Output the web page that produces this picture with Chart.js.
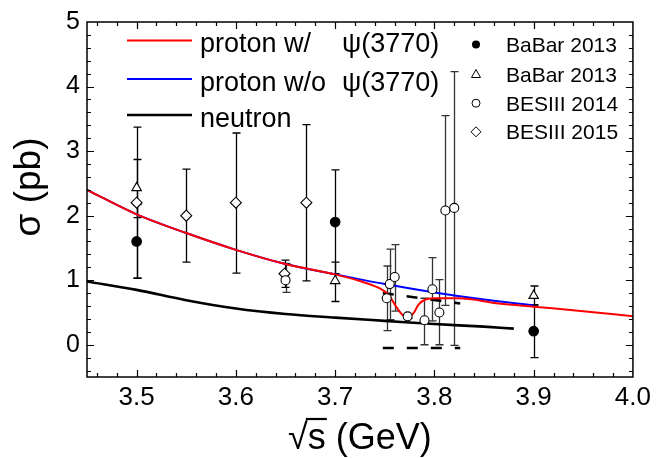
<!DOCTYPE html>
<html><head><meta charset="utf-8">
<script src="https://cdn.jsdelivr.net/npm/chart.js@4.4.1/dist/chart.umd.min.js"></script>
<style>html,body{margin:0;padding:0;background:#fff}#wrap{width:656px;height:458px;position:relative}</style>
</head><body><div id="wrap"><canvas id="c" width="656" height="458"></canvas></div>
<script>
const xTickLabels = [3.5, 3.6, 3.7, 3.8, 3.9, 4.0];
const yTickLabels = [0, 1, 2, 3, 4, 5];

const protonWithX = [3.45, 3.50, 3.55, 3.60, 3.65, 3.70, 3.724, 3.744, 3.754, 3.761, 3.768, 3.773, 3.779, 3.784, 3.791, 3.801, 3.824, 3.865, 3.90, 3.95, 4.00];
const protonWithY = [2.40, 2.02, 1.73, 1.47, 1.25, 1.09, 0.99, 0.88, 0.77, 0.60, 0.46, 0.43, 0.49, 0.62, 0.70, 0.72, 0.72, 0.64, 0.59, 0.52, 0.44];
const protonWithoutX = [3.45, 3.50, 3.55, 3.60, 3.65, 3.70, 3.75, 3.80, 3.85, 3.90];
const protonWithoutY = [2.40, 2.02, 1.73, 1.47, 1.25, 1.09, 0.94, 0.81, 0.70, 0.61];
const neutronX = [3.45, 3.50, 3.55, 3.60, 3.65, 3.70, 3.75, 3.80, 3.85, 3.88];
const neutronY = [0.98, 0.85, 0.69, 0.56, 0.475, 0.42, 0.37, 0.32, 0.28, 0.25];

const bandX = [3.748, 3.826];
const bandUpper = [0.80, 0.64];
const bandLower = [-0.05, -0.05];

const babarFilledX = [3.5, 3.7, 3.9];
const babarFilledY = [1.60, 1.90, 0.21];
const babarFilledLo = [1.03, 1.10, -0.20];
const babarFilledHi = [2.17, 2.71, 0.62];

const babarOpenX = [3.5, 3.7, 3.9];
const babarOpenY = [2.43, 0.99, 0.76];
const babarOpenLo = [1.97, 0.67, 0.60];
const babarOpenHi = [2.87, 1.28, 0.91];

const bes14X = [3.650, 3.752, 3.755, 3.760, 3.773, 3.790, 3.798, 3.805, 3.811, 3.820];
const bes14Y = [1.00, 0.72, 0.94, 1.05, 0.44, 0.38, 0.86, 0.50, 2.08, 2.12];
const bes14Lo = [0.81, 0.22, 0.39, 0.52, 0.41, 0.00, 0.37, 0.00, 0.61, -0.01];
const bes14Hi = [1.26, 1.22, 1.48, 1.55, 0.47, 0.72, 1.35, 1.01, 3.55, 4.23];

const bes15X = [3.50, 3.55, 3.60, 3.649, 3.671];
const bes15Y = [2.20, 2.00, 2.20, 1.10, 2.20];
const bes15Lo = [1.03, 1.28, 1.11, 0.89, 0.99];
const bes15Hi = [3.37, 2.72, 3.28, 1.31, 3.41];

const FONT = "'Liberation Sans', Arial, sans-serif";
const pts = (xs, ys) => xs.map((x, i) => ({x: x, y: ys[i]}));

const errPlugin = {
  id: 'err',
  beforeDatasetsDraw(chart) {
    const ctx = chart.ctx, ys = chart.scales.y;
    chart.data.datasets.forEach((ds, i) => {
      if (!ds.errLo) return;
      const meta = chart.getDatasetMeta(i);
      ctx.save();
      ctx.strokeStyle = ds.errColor || '#000';
      ctx.lineWidth = 1.3;
      meta.data.forEach((pt, j) => {
        const px = Math.round(pt.x) + 0.5;
        const y1 = ys.getPixelForValue(ds.errLo[j]);
        const y2 = ys.getPixelForValue(ds.errHi[j]);
        ctx.beginPath();
        ctx.moveTo(px, y1); ctx.lineTo(px, y2);
        ctx.moveTo(px - 4, y1); ctx.lineTo(px + 4, y1);
        ctx.moveTo(px - 4, y2); ctx.lineTo(px + 4, y2);
        ctx.stroke();
      });
      ctx.restore();
    });
  }
};

const framePlugin = {
  id: 'frame',
  afterDraw(chart) {
    const ctx = chart.ctx, a = chart.chartArea, xs = chart.scales.x, ys = chart.scales.y;
    ctx.save();
    ctx.strokeStyle = '#000';
    ctx.lineWidth = 1.5;
    ctx.strokeRect(a.left, a.top, a.right - a.left, a.bottom - a.top);
    ctx.lineWidth = 1.2;
    ctx.beginPath();
    for (let k = 1; k < 28; k++) {
      const vv = Math.round((3.45 + k * 0.02 - 0.01) * 100) / 100;
      const major = Math.abs(vv * 10 - Math.round(vv * 10)) < 1e-6;
      const len = major ? 7 : 4;
      const px = Math.round(xs.getPixelForValue(vv)) + 0.5;
      ctx.moveTo(px, a.bottom); ctx.lineTo(px, a.bottom - len);
      ctx.moveTo(px, a.top); ctx.lineTo(px, a.top + len);
    }
    for (let k = 1; k < 28; k++) {
      const vv = Math.round((-0.5 + k * 0.2 - 0.1) * 10) / 10;
      if (vv <= -0.5 || vv >= 5) continue;
      const major = Math.abs(vv - Math.round(vv)) < 1e-6;
      const len = major ? 7 : 4;
      const py = Math.round(ys.getPixelForValue(vv)) + 0.5;
      ctx.moveTo(a.left, py); ctx.lineTo(a.left + len, py);
      ctx.moveTo(a.right, py); ctx.lineTo(a.right - len, py);
    }
    ctx.stroke();

    // axis titles
    ctx.fillStyle = '#000';
    ctx.font = '36px ' + FONT;
    ctx.textBaseline = 'alphabetic';
    const cx = (a.left + a.right) / 2;
    const t1 = '\u221A', t2 = 's', t3 = ' (GeV)';
    const w1 = ctx.measureText(t1).width, w2 = ctx.measureText(t2).width, w3 = ctx.measureText(t3).width;
    const x0 = cx - (w1 + w2 + w3) / 2;
    const base = 449;
    ctx.textAlign = 'left';
    ctx.fillText(t1, x0, base);
    ctx.fillText(t2, x0 + w1, base);
    ctx.fillText(t3, x0 + w1 + w2, base);
    ctx.lineWidth = 2.2;
    ctx.beginPath();
    ctx.moveTo(x0 + w1 - 2, 419); ctx.lineTo(x0 + w1 + w2 + 1, 419);
    ctx.stroke();

    ctx.save();
    ctx.translate(40, 187);
    ctx.rotate(-Math.PI / 2);
    ctx.textAlign = 'center';
    ctx.font = '37px ' + FONT;
    ctx.fillText('\u03C3 (pb)', 0, 0);
    ctx.restore();

    // legend (left)
    const rows = [
      {c: '#ff0000', t: 'proton w/', base: 52, lw: 2},
      {c: '#0000ff', t: 'proton w/o', base: 90.5, lw: 2.2},
      {c: '#000000', t: 'neutron', base: 126.5, lw: 2.6}
    ];
    ctx.font = '27px ' + FONT;
    ctx.textAlign = 'left';
    rows.forEach((r, i) => {
      ctx.strokeStyle = r.c; ctx.lineWidth = r.lw;
      ctx.beginPath(); ctx.moveTo(127, r.base - 11.5); ctx.lineTo(192, r.base - 11.5); ctx.stroke();
      ctx.fillText(r.t, 200, r.base);
      if (i < 2) ctx.fillText('\u03C8(3770)', 342, r.base);
    });

    // legend (right)
    ctx.font = '21px ' + FONT;
    const lx = 476;
    const rr = [
      {t: 'BaBar 2013', b: 52, s: 'fc'},
      {t: 'BaBar 2013', b: 82, s: 'tri'},
      {t: 'BESIII 2014', b: 110.7, s: 'oc'},
      {t: 'BESIII 2015', b: 139.3, s: 'dia'}
    ];
    ctx.lineWidth = 1;
    ctx.strokeStyle = '#000';
    rr.forEach(r => {
      ctx.fillStyle = '#000';
      ctx.fillText(r.t, 506, r.b);
      const cy = r.b - 7.5;
      ctx.beginPath();
      if (r.s === 'fc') { ctx.arc(lx, cy, 4, 0, 2 * Math.PI); ctx.fill(); }
      else if (r.s === 'tri') { ctx.moveTo(lx, cy - 5); ctx.lineTo(lx + 4.5, cy + 3); ctx.lineTo(lx - 4.5, cy + 3); ctx.closePath(); ctx.stroke(); }
      else if (r.s === 'oc') { ctx.arc(lx, cy, 4, 0, 2 * Math.PI); ctx.stroke(); }
      else { ctx.moveTo(lx, cy - 5); ctx.lineTo(lx + 5, cy); ctx.lineTo(lx, cy + 5); ctx.lineTo(lx - 5, cy); ctx.closePath(); ctx.stroke(); }
    });
    ctx.restore();
  }
};

const marker = (style, r, fill) => ({
  showLine: false, pointStyle: style, pointRadius: r, pointHoverRadius: r,
  pointBackgroundColor: fill, pointBorderColor: '#000', pointBorderWidth: 1.1
});
const curve = (color, w) => ({
  showLine: true, pointRadius: 0, borderColor: color, borderWidth: w,
  cubicInterpolationMode: 'monotone', fill: false
});

new Chart(document.getElementById('c'), {
  type: 'scatter',
  data: {
    datasets: [
      Object.assign({label: 'BaBar 2013 (filled)', data: pts(babarFilledX, babarFilledY), errLo: babarFilledLo, errHi: babarFilledHi}, marker('circle', 4.8, '#000')),
      Object.assign({label: 'BaBar 2013 (open)', data: pts(babarOpenX, babarOpenY), errLo: babarOpenLo, errHi: babarOpenHi}, marker('triangle', 5.5, '#fff')),
      Object.assign({label: 'BESIII 2014', data: pts(bes14X, bes14Y), errLo: bes14Lo, errHi: bes14Hi, errColor: '#333'}, marker('circle', 4.5, '#fff')),
      Object.assign({label: 'BESIII 2015', data: pts(bes15X, bes15Y), errLo: bes15Lo, errHi: bes15Hi}, marker('rectRot', 5.5, '#fff')),
      Object.assign({label: 'proton w/ psi(3770)', data: pts(protonWithX, protonWithY)}, curve('#ff0000', 2)),
      Object.assign({label: 'proton w/o psi(3770)', data: pts(protonWithoutX, protonWithoutY)}, curve('#0000ff', 2)),
      Object.assign({label: 'neutron', data: pts(neutronX, neutronY)}, curve('#000000', 2.6)),
      Object.assign({label: 'upper', data: pts(bandX, bandUpper), borderDash: [11, 13]}, curve('#000000', 2.6)),
      Object.assign({label: 'lower', data: pts(bandX, bandLower), borderDash: [11, 13]}, curve('#000000', 2.6))
    ]
  },
  options: {
    responsive: false,
    animation: false,
    events: [],
    layout: {padding: {left: 0, right: 21, top: 19, bottom: 0}},
    plugins: {legend: {display: false}, tooltip: {enabled: false}, title: {display: false}},
    scales: {
      x: {
        type: 'linear', min: 3.45, max: 4.0,
        grid: {display: false, drawTicks: false}, border: {display: false},
        afterBuildTicks: s => { s.ticks = xTickLabels.map(v => ({value: v})); },
        afterFit: s => { s.height = 81; },
        ticks: {color: '#000', font: {family: FONT, size: 26}, padding: 5, maxRotation: 0, autoSkip: false,
          callback: v => Number(v).toFixed(1)}
      },
      y: {
        type: 'linear', min: -0.5, max: 5,
        grid: {display: false, drawTicks: false}, border: {display: false},
        afterBuildTicks: s => { s.ticks = yTickLabels.map(v => ({value: v})); },
        afterFit: s => { s.width = 87; },
        ticks: {color: '#000', font: {family: FONT, size: 25}, padding: 7, autoSkip: false,
          callback: v => String(v)}
      }
    }
  },
  plugins: [errPlugin, framePlugin]
});
</script>
</body></html>
